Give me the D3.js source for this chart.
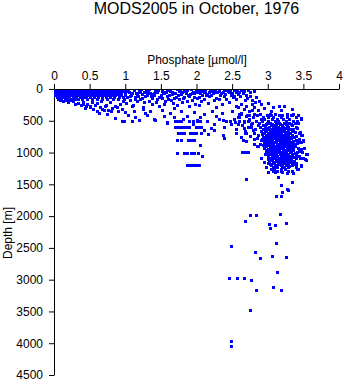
<!DOCTYPE html>
<html>
<head>
<meta charset="utf-8">
<script src="https://cdn.jsdelivr.net/npm/d3@7"></script>
<style>
  html, body { margin: 0; padding: 0; background: #fff; }
  svg { display: block; }
  text { font-family: "Liberation Sans", Arial, Helvetica, sans-serif; fill: #000; }
</style>
</head>
<body>
<script>
// ---- axis ticks ----
const xTickValues = [0, 0.5, 1, 1.5, 2, 2.5, 3, 3.5, 4];
const xTickLabels = ["0", "0.5", "1", "1.5", "2", "2.5", "3", "3.5", "4"];
const yTickValues = [0, 500, 1000, 1500, 2000, 2500, 3000, 3500, 4000, 4500];
const yTickLabels = ["0", "500", "1000", "1500", "2000", "2500", "3000", "3500", "4000", "4500"];

// ---- surface layer, standard levels (depth m) and phosphate (umol/l) at each ----
const levelDepths = [0, 10, 20, 30, 50, 75, 100, 125, 150];
const levelPhosphate = [
  [0.01,0.04,0.07,0.1,0.13,0.17,0.2,0.24,0.27,0.31,0.34,0.38,0.42,0.45,0.49,0.53,0.57,0.61,0.64,0.68,0.72,0.77,0.81,0.86,0.9,0.95],
  [0.02,0.06,0.09,0.15,0.19,0.22,0.29,0.33,0.37,0.44,0.5,0.55,0.6,0.66,0.73,0.79,0.84,0.92,0.98],
  [0.03,0.08,0.12,0.16,0.21,0.25,0.3,0.35,0.4,0.43,0.47,0.52,0.58,0.62,0.69,0.75,0.8,0.87,0.93],
  [0.02,0.05,0.09,0.14,0.18,0.23,0.26,0.32,0.36,0.41,0.46,0.51,0.54,0.59,0.65,0.7,0.76,0.83,0.89,0.96],
  [0.01,0.06,0.1,0.13,0.17,0.22,0.27,0.31,0.35,0.39,0.44,0.48,0.53,0.57,0.63,0.67,0.72,0.78,0.85,0.91,0.99],
  [0.03,0.07,0.11,0.16,0.2,0.24,0.29,0.34,0.38,0.43,0.47,0.52,0.56,0.61,0.66,0.71,0.76,0.82,0.88,0.94],
  [0.02,0.05,0.09,0.14,0.19,0.23,0.28,0.32,0.37,0.41,0.46,0.5,0.55,0.6,0.64,0.69,0.74,0.8,0.86,0.93,1.0],
  [0.04,0.08,0.12,0.17,0.21,0.26,0.31,0.36,0.4,0.45,0.5,0.56,0.62,0.67,0.73,0.79,0.84,0.91,0.97],
  [0.05,0.1,0.15,0.2,0.25,0.3,0.34,0.39,0.46,0.53,0.6,0.68,0.75,0.83,0.9,0.98]
];

// ---- upper thermocline, low phosphate side [phosphate, depth] ----
const upperLowSamples = [
  [0.12,195],[0.2,210],[0.27,190],[0.33,220],[0.4,205],[0.47,235],[0.53,200],[0.6,225],[0.66,190],
  [0.73,245],[0.79,210],[0.85,260],[0.92,230],[0.97,195],[0.38,255],[0.5,275],[0.58,250],[0.64,290],
  [0.71,270],[0.82,300],[0.89,280],[0.95,320],[0.44,300],[0.68,315],[0.76,330],[0.9,345],[0.3,240],
  [0.23,180],[0.16,175],[0.08,170],[0.6,340],[0.7,325],[0.8,350],[0.55,315],[1.0,360],[1.12,340],
  [0.63,384],[0.74,400],[0.86,462],[0.95,505],[0.98,505],[1.09,505],[1.04,410],[1.14,447],[1.19,489],
  [1.28,384],[1.3,410],[1.42,494],[0.45,260],[0.5,290],[0.4,230]
];

// ---- upper thermocline, mid phosphate range [phosphate, depth] ----
const upperMidSamples = [
  [1.02,8],[1.05,47],[1.08,92],[1.03,131],[1.07,178],[1.01,226],[1.09,270],[1.12,15],[1.15,62],
  [1.18,104],[1.13,150],[1.16,195],[1.19,33],[1.11,244],[1.22,4],[1.26,40],[1.24,78],[1.28,118],
  [1.21,165],[1.27,210],[1.25,290],[1.32,20],[1.35,58],[1.31,96],[1.37,140],[1.34,182],[1.38,235],
  [1.33,6],[1.42,12],[1.45,45],[1.41,88],[1.47,125],[1.44,160],[1.48,262],[1.43,205],[1.52,28],
  [1.55,70],[1.58,110],[1.51,145],[1.56,190],[1.59,5],[1.54,240],[1.62,18],[1.65,52],[1.61,95],
  [1.68,135],[1.64,172],[1.67,222],[1.69,300],[1.72,7],[1.75,38],[1.78,80],[1.71,120],[1.76,158],
  [1.79,205],[1.73,255],[1.82,25],[1.85,62],[1.88,102],[1.81,148],[1.86,188],[1.84,12],[1.89,275],
  [1.92,4],[1.95,45],[1.91,85],[1.97,128],[1.94,168],[1.98,230],[2.02,18],[2.05,58],[2.08,98],
  [2.01,140],[2.06,195],[2.04,250],[2.09,8],[2.12,30],[2.15,72],[2.18,115],[2.11,160],[2.16,215],
  [2.19,5],[2.22,12],[2.25,50],[2.21,90],[2.28,135],[2.24,180],[2.27,285],[2.32,25],[2.35,68],
  [2.38,110],[2.31,155],[2.36,230],[2.39,6],[2.42,15],[2.45,55],[2.48,98],[2.41,150],[2.46,200],
  [2.52,8],[2.55,40],[2.58,85],[2.51,130],[2.56,260],[2.62,20],[2.65,65],[2.61,115],[2.68,175],
  [2.72,10],[2.75,50],[2.71,140],[2.78,240],[2.8,30],[2.84,120],[2.88,190],
  [1.04,25],[1.1,70],[1.14,120],[1.2,55],[1.23,140],[1.29,25],[1.36,110],[1.4,65],[1.46,18],
  [1.5,90],[1.57,40],[1.6,160],[1.66,85],[1.7,60],[1.74,100],[1.8,50],[1.83,130],[1.87,20],
  [1.9,112],[1.96,70],[2.0,40],[2.03,125],[2.1,50],[2.14,95],[2.2,30],[2.23,70],[2.29,40],
  [2.33,95],[2.4,75],[2.44,35],[2.5,60],[2.53,110],[2.6,45],[2.66,30],[2.7,95],[2.57,15],
  [2.47,25],[2.37,45],[2.26,15],[2.17,45],[2.07,30],[1.99,15],[1.93,60],[1.77,22],[1.63,35],
  [1.53,50],[1.39,85],[1.3,45],[1.17,85],[1.06,110],
  [1.58,541],[1.54,426],[1.69,448],[1.41,478],[1.59,515],[1.81,478],[2.01,489],[2.32,478],[2.54,515],
  [1.35,350],[1.52,330],[1.63,380],[1.78,345],[1.96,360],[2.1,395],[2.22,340],[2.36,370],[2.5,350],
  [2.62,385],[2.78,330],[1.25,320],[1.86,420],[2.05,440],[2.28,425],[2.58,440],[2.74,410]
];

// ---- single station at standard levels [phosphate, depth] ----
const stationProfile = [
  [1.7,500],[1.74,500],[1.78,500],[1.9,510],[1.95,510],[2.0,500],[2.05,500],[2.15,500],[2.37,490],
  [2.42,500],[2.47,500],[2.59,500],[2.66,500],[2.72,510],
  [1.95,550],[2.24,545],[2.48,555],[2.58,550],
  [1.7,600],[1.74,600],[1.78,600],[1.82,600],[1.86,600],[1.9,600],[1.99,600],[2.03,600],[2.07,600],
  [2.2,610],[2.38,600],[2.67,610],[2.1,640],[2.25,650],
  [1.74,700],[1.78,700],[1.83,700],[1.91,700],[1.95,700],[1.99,700],[2.06,690],[2.16,710],[2.37,720],
  [2.55,700],[2.68,700],[2.38,765],
  [1.73,800],[1.78,800],[1.88,800],[1.92,800],[1.97,800],[2.65,800],[2.05,880],
  [1.73,1000],[1.82,1000],[1.86,1000],[1.92,1000],[1.96,1000],[2.02,1000],[2.64,990],[2.68,990],[2.72,990],
  [2.08,1055],[1.87,1200],[1.91,1200],[1.95,1200],[1.99,1200],[2.04,1200],[2.69,1420]
];

// ---- intermediate-water phosphate maximum: depth rows and values at each ----
const coreDepths = [388,415,446,473,506,534,566,597,628,655,688,716,748,776,806,838,867,897,926,958,987,1018,1047,1079,1108,1137,1168,1197,1228,1258,1289];
const corePhosphate = [
  [2.63,2.8,2.89,3.03,3.1,3.27,3.35],
  [2.71,2.85,2.99,3.05,3.16,3.2,3.32,3.42],
  [2.59,2.79,2.93,3.01,3.08,3.19,3.27,3.39],
  [2.74,2.9,2.95,3.06,3.13,3.22,3.3,3.46],
  [2.83,2.92,3.0,3.1,3.14,3.25,3.36,3.41],
  [2.78,2.88,2.99,3.03,3.11,3.16,3.23,3.3,3.38],
  [2.87,2.94,3.04,3.07,3.12,3.2,3.27,3.34],
  [2.77,2.89,2.96,3.02,3.1,3.14,3.22,3.29,3.4],
  [2.82,2.93,3.01,3.05,3.13,3.19,3.23,3.32,3.36],
  [2.91,2.97,3.06,3.11,3.15,3.21,3.28,3.34],
  [2.81,2.95,3.0,3.08,3.12,3.18,3.26,3.31,3.44],
  [2.87,2.97,3.02,3.1,3.14,3.21,3.25,3.34,3.47],
  [2.93,3.0,3.06,3.1,3.18,3.22,3.3,3.37],
  [2.85,2.96,3.01,3.09,3.13,3.21,3.26,3.33],
  [2.9,2.99,3.05,3.11,3.15,3.23,3.29,3.4,3.49],
  [2.95,3.0,3.08,3.12,3.2,3.24,3.32,3.45],
  [2.89,2.96,3.04,3.08,3.16,3.22,3.27,3.37],
  [2.86,2.98,3.07,3.11,3.19,3.23,3.31,3.38],
  [2.95,3.03,3.07,3.15,3.19,3.27,3.32,3.43,3.51],
  [2.99,3.04,3.12,3.16,3.24,3.28,3.36],
  [3.01,3.06,3.14,3.18,3.26,3.31,3.41,3.48],
  [2.96,3.05,3.09,3.17,3.21,3.29,3.34,3.53],
  [3.01,3.09,3.13,3.21,3.25,3.32,3.44],
  [2.91,3.04,3.12,3.16,3.24,3.28,3.39,3.49],
  [3.01,3.06,3.14,3.18,3.26,3.33,3.52],
  [3.02,3.11,3.15,3.23,3.27,3.37],
  [3.0,3.09,3.14,3.22,3.29,3.4],
  [3.05,3.11,3.19,3.25,3.34,3.46],
  [2.98,3.08,3.13,3.23,3.28,3.39],
  [3.04,3.09,3.18,3.24,3.41],
  [3.07,3.13,3.19,3.29,3.34]
];

// ---- further casts through the maximum: depth rows and values at each ----
const coreDepths2 = [550,612,642,672,702,732,762,792,822,852,882,912,942,972,1003,1032,1063,1093,1123,1152,1183,1213];
const corePhosphate2 = [
  [2.97,3.06,3.17,3.25,3.32],
  [2.99,3.08,3.17,3.26],
  [2.96,3.09,3.17,3.29],
  [3.03,3.14,3.24,3.38],
  [2.92,3.05,3.17,3.29],
  [3.0,3.07,3.17,3.28,3.4],
  [2.97,3.03,3.15,3.25,3.34],
  [2.92,3.06,3.18,3.3,3.44],
  [2.95,3.02,3.17,3.27,3.36],
  [2.98,3.06,3.18,3.29,3.41],
  [2.93,3.01,3.13,3.25,3.33],
  [3.04,3.15,3.27,3.35],
  [3.0,3.1,3.22,3.3,3.47],
  [3.02,3.09,3.21,3.33,3.44],
  [3.03,3.12,3.24,3.38],
  [3.0,3.07,3.19,3.27,3.4],
  [3.06,3.18,3.29,3.36],
  [3.09,3.21,3.31,3.45],
  [3.04,3.12,3.2,3.3],
  [3.07,3.18,3.25,3.33],
  [3.03,3.16,3.27,3.36],
  [3.1,3.2,3.3,3.4]
];

// ---- scattered samples around the maximum [phosphate, depth] ----
const coreFringe = [
  [2.82,210],[2.9,240],[3.0,225],[3.08,280],[3.16,273],[3.23,268],[3.19,331],[3.34,315],[2.95,300],
  [2.86,330],[3.05,345],[2.55,160],[2.62,230],[2.7,260],[2.78,180],[2.58,290],[2.66,320],[2.8,280],
  [2.74,350],[2.6,400],[2.69,430],[2.52,470],[2.64,560],[2.72,600],[2.56,630],[2.68,660],[2.75,740],
  [2.62,760],[2.7,820],[2.8,860],[2.85,893],[2.98,970],[2.9,1088],[2.95,1150],[3.34,410],[3.47,462],
  [3.42,531],[3.41,610],[3.45,683],[3.48,725],[3.41,804],[3.46,841],[3.5,815],[3.55,1025],[3.54,1115],
  [3.47,1210],[3.42,1262],[3.35,1315],[3.0,1300],[3.1,1310],[3.2,1300],[3.27,1320],[2.69,95],[2.75,105],
  [2.66,520],[2.76,545],[2.7,700],[2.79,650],[2.74,480],[2.81,780]
];

// ---- deep water [phosphate, depth] ----
const deepSamples = [
  [3.14,1377],[3.34,1456],[3.18,1505],[3.27,1578],[3.2,1625],[3.28,1588],[3.12,1683],[3.18,1683],
  [2.75,1977],[2.83,1982],[3.17,1961],[2.68,2077],[3.02,2119],[3.1,2135],[3.03,2182],[3.25,2103],
  [2.48,2465],[3.12,2418],[2.82,2566],[2.89,2666],[3.06,2624],[3.25,2640],[3.13,2881],[2.45,2970],
  [2.57,2970],[2.66,2970],[2.76,3013],[3.07,3118],[2.83,3160],[3.18,3170],[2.75,3475],[2.48,3964],
  [2.48,4049]
];

// ---- gather all samples ----
const samples = [];
levelDepths.forEach((d, i) => levelPhosphate[i].forEach(p => samples.push([p, d])));
coreDepths.forEach((d, i) => corePhosphate[i].forEach(p => samples.push([p, d])));
coreDepths2.forEach((d, i) => corePhosphate2[i].forEach(p => samples.push([p, d])));
[upperLowSamples, upperMidSamples, stationProfile, coreFringe, deepSamples]
  .forEach(a => a.forEach(s => samples.push(s)));

const W = 345, H = 384;
const svg = d3.select("body").append("svg").attr("width", W).attr("height", H);
svg.append("rect").attr("width", W).attr("height", H).attr("fill", "#fff");

const x = d3.scaleLinear().domain([0, 4]).range([54, 339]);
const y = d3.scaleLinear().domain([0, 4500]).range([89, 375]);

// title
svg.append("text")
  .attr("x", 196.5).attr("y", 13.5)
  .attr("text-anchor", "middle")
  .style("font-size", "16px")
  .text("MODS2005 in October, 1976");

// axes
const xAxis = d3.axisTop(x)
  .tickValues(xTickValues)
  .tickFormat((d, i) => xTickLabels[i])
  .tickSize(5).tickSizeOuter(0).tickPadding(4.5);
const yAxis = d3.axisLeft(y)
  .tickValues(yTickValues)
  .tickFormat((d, i) => yTickLabels[i])
  .tickSize(5).tickSizeOuter(0).tickPadding(6);

const gx = svg.append("g").attr("transform", `translate(0,${y(0)})`).call(xAxis);
const gy = svg.append("g").attr("transform", `translate(${x(0)},0)`).call(yAxis);
[gx, gy].forEach(g => {
  g.attr("font-family", null).attr("font-size", null);
  g.selectAll("text").style("font-size", "12px");
  g.selectAll("path, line").attr("stroke", "#000");
});

// axis titles
svg.append("text")
  .attr("x", 197).attr("y", 63.5)
  .attr("text-anchor", "middle")
  .style("font-size", "12px")
  .text("Phosphate [µmol/l]");

svg.append("text")
  .attr("transform", "translate(11.5,233) rotate(-90)")
  .attr("text-anchor", "middle")
  .style("font-size", "12px")
  .text("Depth [m]");

// sample markers
svg.append("clipPath").attr("id", "plotArea")
  .append("rect").attr("x", 54).attr("y", 90).attr("width", W - 54).attr("height", H - 90);

svg.append("g").attr("clip-path", "url(#plotArea)")
  .selectAll("rect")
  .data(samples)
  .join("rect")
  .attr("x", d => x(d[0]) - 1)
  .attr("y", d => y(d[1]) - 1)
  .attr("width", 3)
  .attr("height", 3)
  .attr("fill", "#0000ff")
  .attr("shape-rendering", "crispEdges");
</script>
</body>
</html>
